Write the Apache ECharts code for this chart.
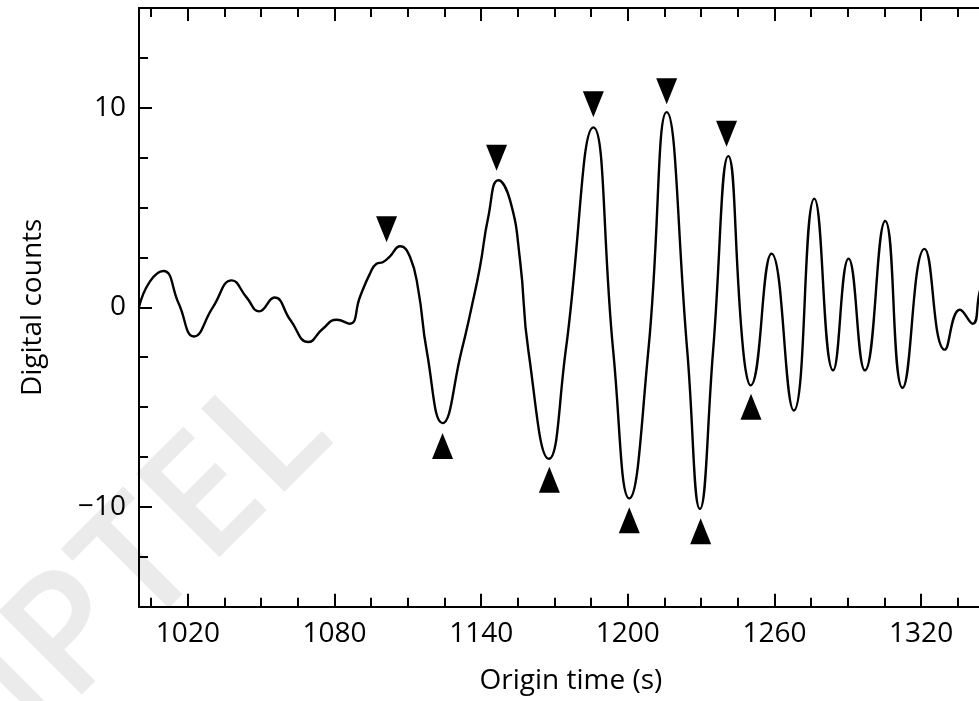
<!DOCTYPE html>
<html>
<head>
<meta charset="utf-8">
<script src="https://cdn.jsdelivr.net/npm/echarts@6/dist/echarts.min.js"></script>
<style>
html,body{margin:0;padding:0;background:#fff;}
#chart{width:979px;height:701px;}
</style>
</head>
<body>
<div id="chart"></div>
<script>
// Seismogram trace (origin time in s, digital counts)
var times = [1000, 1004.5, 1010, 1016.2, 1022.5, 1030.2, 1038, 1044, 1049.2, 1055.4,
  1062, 1069.3, 1075, 1080.9, 1086.3, 1090.4, 1094.5, 1097.2, 1099.9, 1102.7,
  1106.8, 1110.9, 1114.3, 1117.7, 1124.2, 1132, 1136.1, 1139.5, 1142.9, 1147,
  1151.8, 1155.9, 1159.3, 1167.7, 1174.6, 1185.9, 1194, 1200.6, 1208.4, 1215.9,
  1224.3, 1229.5, 1234.9, 1241.1, 1247.2, 1250.2, 1258.8, 1267.9, 1276.3, 1284,
  1290.3, 1297, 1305.3, 1312.4, 1321.4, 1329.7, 1335.9, 1341.1, 1343.8, 1347, 1350];
var counts = [0.0, 1.3, 1.82, 0.2, -1.46, 0.0, 1.35, 0.5, -0.2, 0.49,
  -0.65, -1.74, -1.1, -0.62, -0.82, 0.52, 1.69, 2.19, 2.27, 2.56,
  3.06, 2.52, 0.85, -2.16, -5.8, -2.16, 0.02, 2.02, 4.53, 6.37,
  5.37, 2.36, -2.16, -7.59, -2.16, 9.02, -2.16, -9.57, -2.16, 9.78,
  -2.16, -10.1, -2.16, 7.58, -2.16, -3.91, 2.69, -5.17, 5.45, -3.16,
  2.44, -3.16, 4.33, -4.03, 2.93, -2.12, -0.12, -0.82, 0.69, 2.3, 3.5];

// Picked peaks (down triangles) and troughs (up triangles)
var peakTimes = [1101.3, 1146.3, 1185.9, 1215.9, 1240.4];
var peakMarks = [3.91, 7.50, 10.18, 10.83, 8.70];
var troughTimes = [1124.2, 1167.9, 1200.6, 1229.8, 1250.4];
var troughMarks = [-6.95, -8.64, -10.67, -11.22, -4.98];

// Ticks
var xMajorTicks = [1020, 1080, 1140, 1200, 1260, 1320];
var xMinorTicks = [1005, 1035, 1050, 1065, 1095, 1110, 1125, 1155, 1170, 1185, 1215, 1230, 1245, 1275, 1290, 1305, 1335];
var yMajorTicks = [-10, 0, 10];
var yMinorTicks = [-12.5, -7.5, -5, -2.5, 2.5, 5, 7.5, 12.5];

var xName = 'Origin time (s)';
var yName = 'Digital counts';

var FONT = 'Open Sans';
var BLACK = '#000';

function zip(a, b) { return a.map(function (v, i) { return [v, b[i]]; }); }

var X_MIN = 1000, X_MAX = 1343.6, Y_MIN = -15, Y_MAX = 15;

function xAx(pos, custom, len, showLine, showLabel) {
  var ax = {
    type: 'value', position: pos, min: X_MIN, max: X_MAX,
    splitLine: { show: false },
    axisLine: { show: showLine, onZero: false, lineStyle: { color: BLACK, width: 2 } },
    axisTick: { show: true, inside: true, length: len, customValues: custom, lineStyle: { color: BLACK, width: 2 } },
    axisLabel: { show: showLabel }
  };
  if (showLabel) {
    ax.axisLabel = { show: true, customValues: custom, margin: 13, color: BLACK, fontSize: 28, fontFamily: FONT,
      formatter: function (v) { return String(v); } };
    ax.name = xName;
    ax.nameLocation = 'middle';
    ax.nameGap = 60;
    ax.nameTextStyle = { color: BLACK, fontSize: 28, fontFamily: FONT, padding: [0, 0, 0, 24] };
  }
  return ax;
}
function yAx(custom, len, showLine, showLabel) {
  var ax = {
    type: 'value', position: 'left', min: Y_MIN, max: Y_MAX,
    splitLine: { show: false },
    axisLine: { show: showLine, onZero: false, lineStyle: { color: BLACK, width: 2 } },
    axisTick: { show: true, inside: true, length: len, customValues: custom, lineStyle: { color: BLACK, width: 2 } },
    axisLabel: { show: showLabel }
  };
  if (showLabel) {
    ax.axisLabel = { show: true, customValues: custom, margin: 13, color: BLACK, fontSize: 28, fontFamily: FONT,
      formatter: function (v) { return String(v).replace('-', '\u2212'); } };
    ax.name = yName;
    ax.nameLocation = 'middle';
    ax.nameGap = 92;
    ax.nameTextStyle = { color: BLACK, fontSize: 28, fontFamily: FONT };
  }
  return ax;
}

var chart = echarts.init(document.getElementById('chart'), null, { renderer: 'canvas' });
chart.setOption({
  animation: false,
  backgroundColor: '#fff',
  graphic: [{
    type: 'text', z: -10, x: 125, y: 585, rotation: Math.PI / 4,
    style: { text: 'NPTEL', fill: '#ebebeb', font: '600 165px "Open Sans"', align: 'center', verticalAlign: 'middle' }
  }],
  grid: { left: 139, top: 8, width: 839.8, height: 598.7, containLabel: false },
  xAxis: [
    xAx('bottom', xMajorTicks, 13, true, true),
    xAx('bottom', xMinorTicks, 9, false, false),
    xAx('top', xMajorTicks, 13, true, false),
    xAx('top', xMinorTicks, 9, false, false)
  ],
  yAxis: [
    yAx(yMajorTicks, 13, true, true),
    yAx(yMinorTicks, 9, false, false)
  ],
  series: [
    {
      type: 'line', xAxisIndex: 0, yAxisIndex: 0,
      data: zip(times, counts), smooth: true, showSymbol: false, symbol: 'none',
      lineStyle: { color: BLACK, width: 2.4 }, clip: true, z: 3
    },
    {
      type: 'scatter', xAxisIndex: 0, yAxisIndex: 0,
      data: zip(peakTimes, peakMarks), symbol: 'triangle', symbolSize: [21, 26], symbolRotate: 180,
      itemStyle: { color: BLACK, opacity: 1 }, z: 4
    },
    {
      type: 'scatter', xAxisIndex: 0, yAxisIndex: 0,
      data: zip(troughTimes, troughMarks), symbol: 'triangle', symbolSize: [21, 26],
      itemStyle: { color: BLACK, opacity: 1 }, z: 4
    }
  ]
});
</script>
</body>
</html>
